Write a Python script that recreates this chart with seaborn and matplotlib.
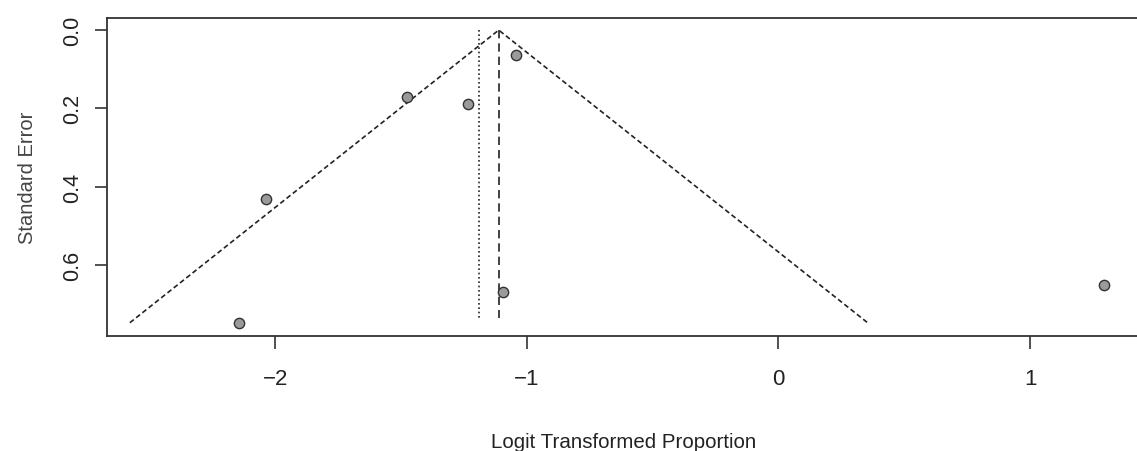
import numpy as np
import pandas as pd
import matplotlib
matplotlib.use('Agg')
import matplotlib.pyplot as plt
import seaborn as sns

# study estimates (logit proportion) and their standard errors
logit_prop = [-2.143, -2.036, -1.478, -1.235, -1.044, -1.096, 1.295]
std_err = [0.748, 0.432, 0.171, 0.189, 0.064, 0.669, 0.651]

# pooled estimates
est_random = -1.112
est_fixed = -1.191
z_crit = 1.96

x_ticks = [-2, -1, 0, 1]
y_ticks = [0.0, 0.2, 0.4, 0.6]

df = pd.DataFrame({'x': logit_prop, 'se': std_err})

sns.set_style('white')
plt.rcParams['font.family'] = ['Liberation Sans', 'DejaVu Sans']

fig = plt.figure(figsize=(11.37, 4.52), dpi=100)
ax = fig.add_axes([0.0941, 0.2544, 0.9059 + 0.002, 0.7036])

se_max = max(std_err)
# funnel
ax.plot([est_random - z_crit * se_max, est_random, est_random + z_crit * se_max],
        [se_max, 0, se_max], color='#222222', lw=1.2, dashes=(3, 1.8))
ax.plot([est_random, est_random], [0, se_max * 0.985], color='#222222', lw=1.2, dashes=(5, 3))
ax.plot([est_fixed, est_fixed], [0, se_max * 0.985], color='#222222', lw=1.2, dashes=(1, 1.6))

sns.scatterplot(data=df, x='x', y='se', ax=ax, s=55, color='#9a9a9a',
                edgecolor='#333333', linewidth=1.0, zorder=3)

ax.set_xlim(-2.669, 1.434)
ax.set_ylim(0.782, -0.031)
ax.set_xticks(x_ticks)
ax.set_xticklabels(['\u22122', '\u22121', '0', '1'])
ax.set_yticks(y_ticks)
ax.set_yticklabels(['0.0', '0.2', '0.4', '0.6'], rotation=90, va='center')

for sp in ax.spines.values():
    sp.set_color('#333333')
    sp.set_linewidth(1.3)

ax.tick_params(axis='both', which='both', length=9, width=1.2, color='#333333',
               labelcolor='#222222', bottom=True, left=True)
ax.tick_params(axis='x', pad=14, labelsize=16)
ax.tick_params(axis='y', pad=8, labelsize=15.5)

ax.set_xlabel('Logit Transformed Proportion', fontsize=14.8, color='#222222', labelpad=31)
ax.set_ylabel('Standard Error', fontsize=14.5, color='#444444', labelpad=18)

plt.savefig('out.png', dpi=100)
